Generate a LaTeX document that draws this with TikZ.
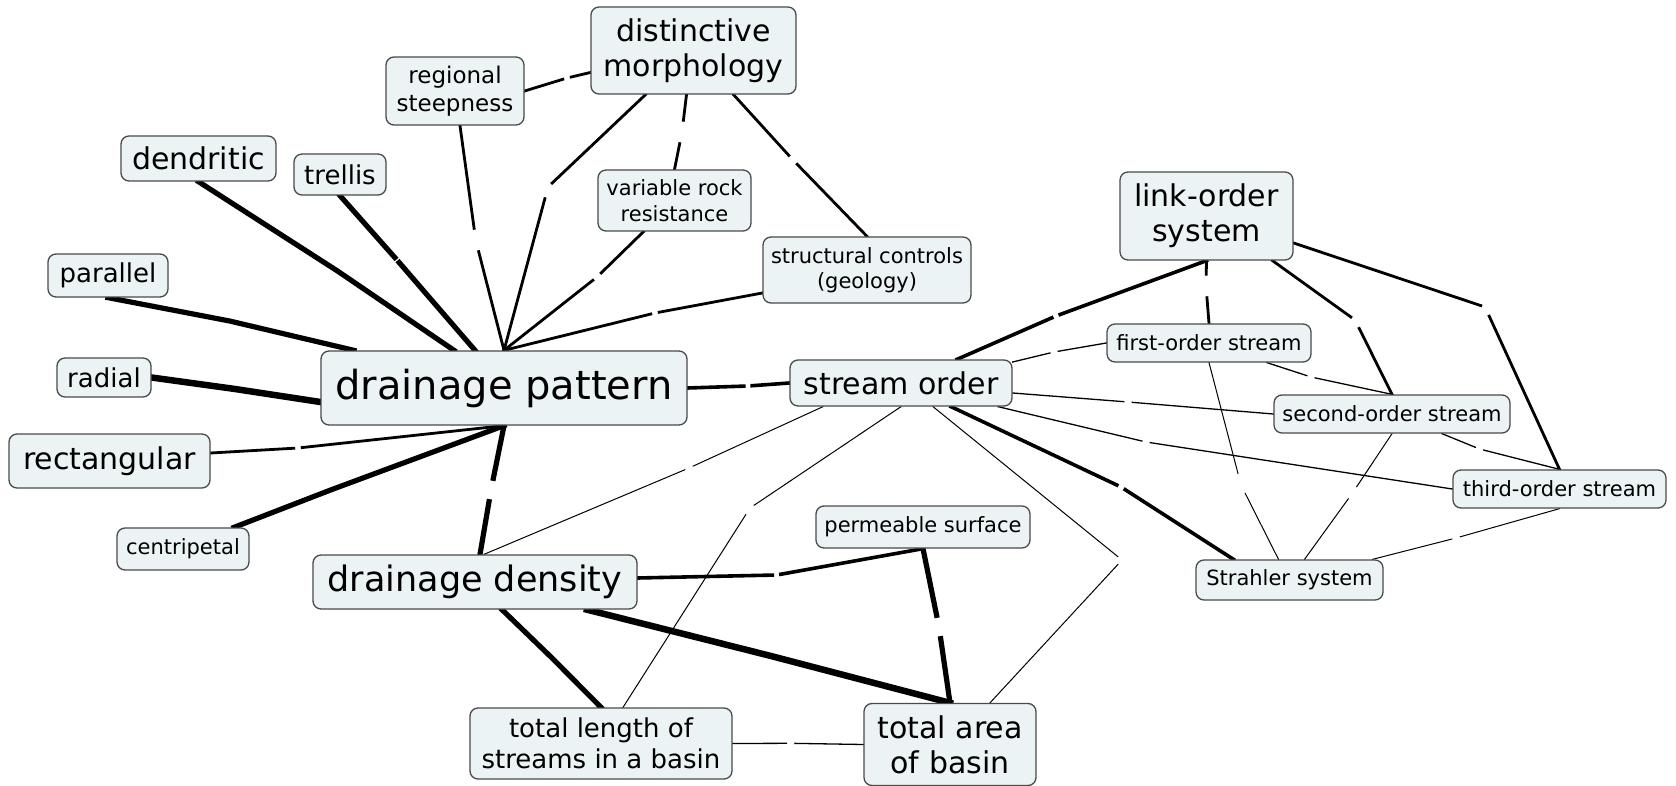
\documentclass[tikz,border=0pt]{standalone}
\usepackage{fontspec}
\setmainfont{DejaVu Sans}
\usetikzlibrary{backgrounds}
\definecolor{nodefill}{HTML}{ECF3F5}
\definecolor{nodeline}{HTML}{4A4A4A}
\tikzset{
  concept/.style={draw=nodeline, line width=1.3pt, fill=nodefill, rounded corners=8pt,
                  align=center, inner sep=0pt, text=black},
  lnk/.style={inner sep=0pt, minimum width=8pt, minimum height=23pt},
  lnkNarrow/.style={inner sep=0pt, minimum width=4pt, minimum height=23pt},
  lnkSlim/.style={inner sep=0pt, minimum width=2pt, minimum height=23pt},
  wire/.style={line cap=rect, line join=round, draw=black},
  lnHair/.style={line width=1pt},
  lnFine/.style={line width=1.3pt},
  lnMid/.style={line width=2.8pt},
  lnSemi/.style={line width=3.6pt},
  lnBold/.style={line width=5.2pt},
  lnHeavy/.style={line width=6.5pt},
  fA/.style={font=\fontsize{40}{46}\selectfont},
  fB/.style={font=\fontsize{35}{40}\selectfont},
  fC/.style={font=\fontsize{30}{35}\selectfont},
  fD/.style={font=\fontsize{26}{31}\selectfont},
  fE/.style={font=\fontsize{23}{28}\selectfont},
  fF/.style={font=\fontsize{21}{25.5}\selectfont},
  sz/.style 2 args={minimum width=#1pt, minimum height=#2pt}
}
\begin{document}
\begin{tikzpicture}[x=1pt, y=-1pt]
\useasboundingbox (0,0) rectangle (1676,786);

% concepts
\node[concept,fC,sz={205}{87}] (dm) at (693.5,50.5) {distinctive\\morphology};
\node[concept,fE,sz={138}{68}] (rs) at (455,91) {regional\\steepness};
\node[concept,fC,sz={155}{45}] (den) at (198.5,158.5) {dendritic};
\node[concept,fD,sz={92}{41}] (trel) at (340,174.5) {trellis};
\node[concept,fF,sz={153}{61}] (vrr) at (674.5,200.5) {variable rock\\resistance};
\node[concept,fF,sz={208}{66}] (sc) at (867,270) {structural controls\\(geology)};
\node[concept,fD,sz={120}{43}] (par) at (108,275.5) {parallel};
\node[concept,fD,sz={94}{39}] (rad) at (104,377.5) {radial};
\node[concept,fA,sz={366}{74}] (dp) at (504,388) {drainage pattern};
\node[concept,fC,sz={201}{54}] (rect) at (109.5,461) {rectangular};
\node[concept,fF,sz={132}{42}] (cen) at (183,549) {centripetal};
\node[concept,fC,sz={173}{88}] (lo) at (1206.5,216) {link-order\\system};
\node[concept,fF,sz={204}{38}] (fo) at (1209,343) {first-order stream};
\node[concept,fC,sz={222}{46}] (so) at (901,383) {stream order};
\node[concept,fF,sz={236}{38}] (sec) at (1392,414) {second-order stream};
\node[concept,fF,sz={213}{38}] (thi) at (1559.5,489) {third-order stream};
\node[concept,fF,sz={214}{42}] (ps) at (923,527) {permeable surface};
\node[concept,fB,sz={324}{54}] (dd) at (475,582) {drainage density};
\node[concept,fF,sz={187}{40}] (str) at (1289.5,580) {Strahler system};
\node[concept,fD,sz={262}{71}] (tl) at (601,743.5) {total length of\\streams in a basin};
\node[concept,fC,sz={172}{82}] (ta) at (950,744.5) {total area\\of basin};

% empty link labels, where each connector breaks
\node[lnk] (g1) at (567,78) {};
\node[lnk] (g2) at (475.7,240) {};
\node[lnk] (g3) at (548,187) {};
\node[lnk] (g4) at (682,132) {};
\node[lnk] (g5) at (793,160) {};
\node[lnk] (g6) at (597,277) {};
\node[lnk] (g7) at (655,313) {};
\node[lnkNarrow] (g8) at (337.5,271) {};
\node[lnkNarrow] (g9) at (397,260) {};
\node[lnkNarrow] (g10) at (229.6,321) {};
\node[lnkNarrow] (g11) at (235,389) {};
\node[lnk] (g12) at (298,448) {};
\node[lnkNarrow] (g13) at (330.6,490) {};
\node[lnk] (g14) at (491,490) {};
\node[lnk] (g15) at (748,386) {};
\node[lnk] (g16) at (689,468) {};
\node[lnk] (g17) at (750,508) {};
\node[lnk] (g18) at (1122,560) {};
\node[lnk] (g19) at (1121,487) {};
\node[lnk] (g20) at (1054,352) {};
\node[lnk] (g21) at (1128,402) {};
\node[lnk] (g22) at (1146,442) {};
\node[lnk] (g23) at (1056,316) {};
\node[lnk] (g24) at (1206,286) {};
\node[lnk] (g25) at (1355,320) {};
\node[lnk] (g26) at (1485,307) {};
\node[lnk] (g27) at (1311,377) {};
\node[lnk] (g28) at (1241,485) {};
\node[lnk] (g29) at (1479.5,449) {};
\node[lnk] (g30) at (1352.5,493) {};
\node[lnk] (g31) at (1456,538) {};
\node[lnk] (g32) at (776.6,575) {};
\node[lnk] (g33) at (939,627) {};
\node[lnkNarrow] (g34) at (771,656) {};
\node[lnkSlim] (g35) at (552,658) {};
\node[lnk] (g36) at (790.7,743.3) {};

\begin{pgfonlayer}{background}
% drainage pattern cluster
\draw[wire,lnMid] (rs.east) -- (g1) (g1) -- ([yshift=-22pt]dm.west);
\draw[wire,lnMid] ([xshift=5pt]rs.south) -- (g2) (g2) -- (dp.north);
\draw[wire,lnMid] ([xshift=-48pt]dm.south) -- (g3) (g3) -- (dp.north);
\draw[wire,lnMid] ([xshift=-7pt]dm.south) -- (g4) (g4) -- (vrr.north);
\draw[wire,lnMid] ([xshift=40pt]dm.south) -- (g5) (g5) -- (sc.north);
\draw[wire,lnMid] ([xshift=-31pt]vrr.south) -- (g6) (g6) -- (dp.north);
\draw[wire,lnMid] ([yshift=-23pt]sc.west) -- (g7) (g7) -- (dp.north);
\draw[wire,lnBold] (den.south) -- (g8) (g8) -- ([xshift=-50pt]dp.north);
\draw[wire,lnBold] (trel.south) -- (g9) (g9) -- ([xshift=-29pt]dp.north);
\draw[wire,lnBold] (par.south) -- (g10) (g10) -- ([xshift=-150pt]dp.north);
\draw[wire,lnHeavy] (rad.east) -- (g11) (g11) -- ([yshift=-14pt]dp.west);
\draw[wire,lnMid] ([yshift=8pt]rect.east) -- (g12) (g12) -- (dp.south);
\draw[wire,lnBold] ([xshift=51pt]cen.north) -- (g13) (g13) -- (dp.south);
\draw[wire,lnBold] (dp.south) -- (g14) (g14) -- ([xshift=5pt]dd.north);
\draw[wire,lnSemi] (dp.east) -- (g15) (g15) -- (so.west);
% stream order cluster
\draw[wire,lnHair] ([xshift=-78pt]so.south) -- (g16) (g16) -- ([xshift=9pt]dd.north);
\draw[wire,lnHair] (so.south) -- (g17) (g17) -- ([xshift=22pt]tl.north);
\draw[wire,lnHair] ([xshift=32pt]so.south) -- (g18) (g18) -- ([xshift=40pt]ta.north);
\draw[wire,lnSemi] ([xshift=50pt]so.south) -- (g19) (g19) -- ([xshift=-56pt]str.north);
\draw[wire,lnFine] ([yshift=21pt]so.east) -- (g20) (g20) -- (fo.west);
\draw[wire,lnFine] ([yshift=-10pt]so.east) -- (g21) (g21) -- (sec.west);
\draw[wire,lnFine] ([xshift=97pt]so.south) -- (g22) (g22) -- (thi.west);
\draw[wire,lnSemi] ([xshift=56pt]so.north) -- (g23) (g23) -- (lo.south);
\draw[wire,lnMid] (lo.south) -- (g24) (g24) -- (fo.north);
\draw[wire,lnMid] ([xshift=66pt]lo.south) -- (g25) (g25) -- (sec.north);
\draw[wire,lnMid] ([yshift=-27pt]lo.east) -- (g26) (g26) -- (thi.north);
\draw[wire,lnFine] ([xshift=58pt]fo.south) -- (g27) (g27) -- (sec.north);
\draw[wire,lnHair] (fo.south) -- (g28) (g28) -- ([xshift=-11pt]str.north);
\draw[wire,lnFine] ([xshift=50pt]sec.south) -- (g29) (g29) -- (thi.north);
\draw[wire,lnHair] (sec.south) -- (g30) (g30) -- ([xshift=15pt]str.north);
\draw[wire,lnHair] (thi.south) -- (g31) (g31) -- ([xshift=83pt]str.north);
% drainage density cluster
\draw[wire,lnSemi] ([yshift=4pt]dd.east) -- (g32) (g32) -- (ps.south);
\draw[wire,lnBold] (ps.south) -- (g33) (g33) -- (ta.north);
\draw[wire,lnHeavy] ([xshift=112pt]dd.south) -- (g34) (g34) -- (ta.north);
\draw[wire,lnBold] ([xshift=27pt]dd.south) -- (g35) (g35) -- (tl.north);
\draw[wire,lnFine] (tl.east) -- (g36) (g36) -- (ta.west);
\end{pgfonlayer}
\end{tikzpicture}
\end{document}
